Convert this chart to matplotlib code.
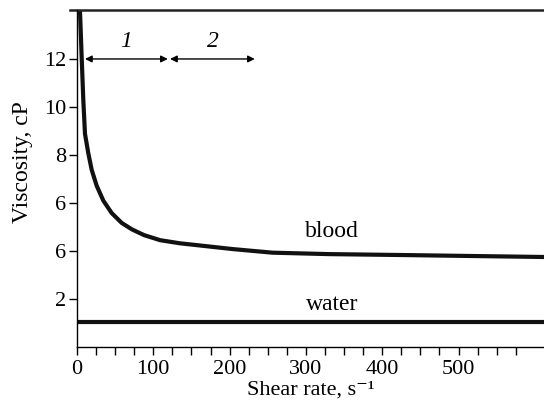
import numpy as np
import matplotlib.pyplot as plt

plt.rcParams['font.family'] = ['Liberation Serif', 'DejaVu Serif']

# blood viscosity curve
shear_rate = [3.9, 6.2, 8.3, 10.5, 14.8, 19.3, 25.8, 34.5, 45.5, 58.6, 72, 88,
              109, 135, 161, 204, 256, 330, 430, 520, 612]
blood_visc = [14.04, 12.03, 10.29, 8.88, 8.08, 7.38, 6.72, 6.1, 5.58, 5.17, 4.9, 4.66,
              4.45, 4.32, 4.23, 4.08, 3.93, 3.87, 3.83, 3.79, 3.75]

water_x = [0, 612]
water_visc = [1.04, 1.04]

ytick_pos = [2, 4, 6, 8, 10, 12]
ytick_labels = ['2', '6', '6', '8', '10', '12']
xtick_labels = ['0', '100', '200', '300', '400', '500']

# regions 1 and 2 along the top
region_start = [10.5, 122]
region_end = [119, 233]
region_names = ['1', '2']

fig = plt.figure(figsize=(5.44, 4.08), dpi=100)
ax = fig.add_axes([0.1415, 0.1495, 0.8585, 0.826])

ax.plot(shear_rate, blood_visc, color='#111111', linewidth=3, solid_joinstyle='round')
ax.plot(water_x, water_visc, color='#111111', linewidth=3)

ax.set_xlim(0, 612)
ax.set_ylim(0, 14.04)

# arrows and their numbers
for x0, x1, name in zip(region_start, region_end, region_names):
    ax.annotate('', xy=(x1, 12), xytext=(x0, 12),
                arrowprops=dict(arrowstyle='<|-|>', color='black', lw=1,
                                mutation_scale=10, shrinkA=0, shrinkB=0))
    ax.text((x0 + x1) / 2, 12.3, name, fontsize=17, style='italic', ha='center', va='bottom')

ax.text(334, 4.83, 'blood', fontsize=17, ha='center', va='center')
ax.text(334, 1.78, 'water', fontsize=17, ha='center', va='center')

ax.spines['right'].set_visible(False)
ax.spines['top'].set_visible(False)
ax.spines['left'].set_linewidth(1)
ax.spines['bottom'].set_linewidth(1)
# top frame line extends slightly past the left axis
ax.plot([-0.015, 1], [1, 1], transform=ax.transAxes, color='#222222', lw=1.8, clip_on=False)

ax.set_xticks(np.arange(25, 600, 25), minor=True)
ax.set_xticks([0, 100, 200, 300, 400, 500])
ax.set_xticklabels(xtick_labels)
ax.set_yticks(ytick_pos)
ax.set_yticklabels(ytick_labels)
ax.tick_params(axis='both', which='both', direction='out', length=6, width=1, labelsize=16)
ax.tick_params(axis='x', pad=3)
ax.tick_params(axis='y', pad=2)

ax.set_xlabel('Shear rate, s\u207b\u00b9', fontsize=16)
ax.xaxis.set_label_coords(0.5, -0.1)
ax.set_ylabel('Viscosity, cP', fontsize=17)
ax.yaxis.set_label_coords(-0.094, 0.549)

fig.savefig('out.png', dpi=100)
